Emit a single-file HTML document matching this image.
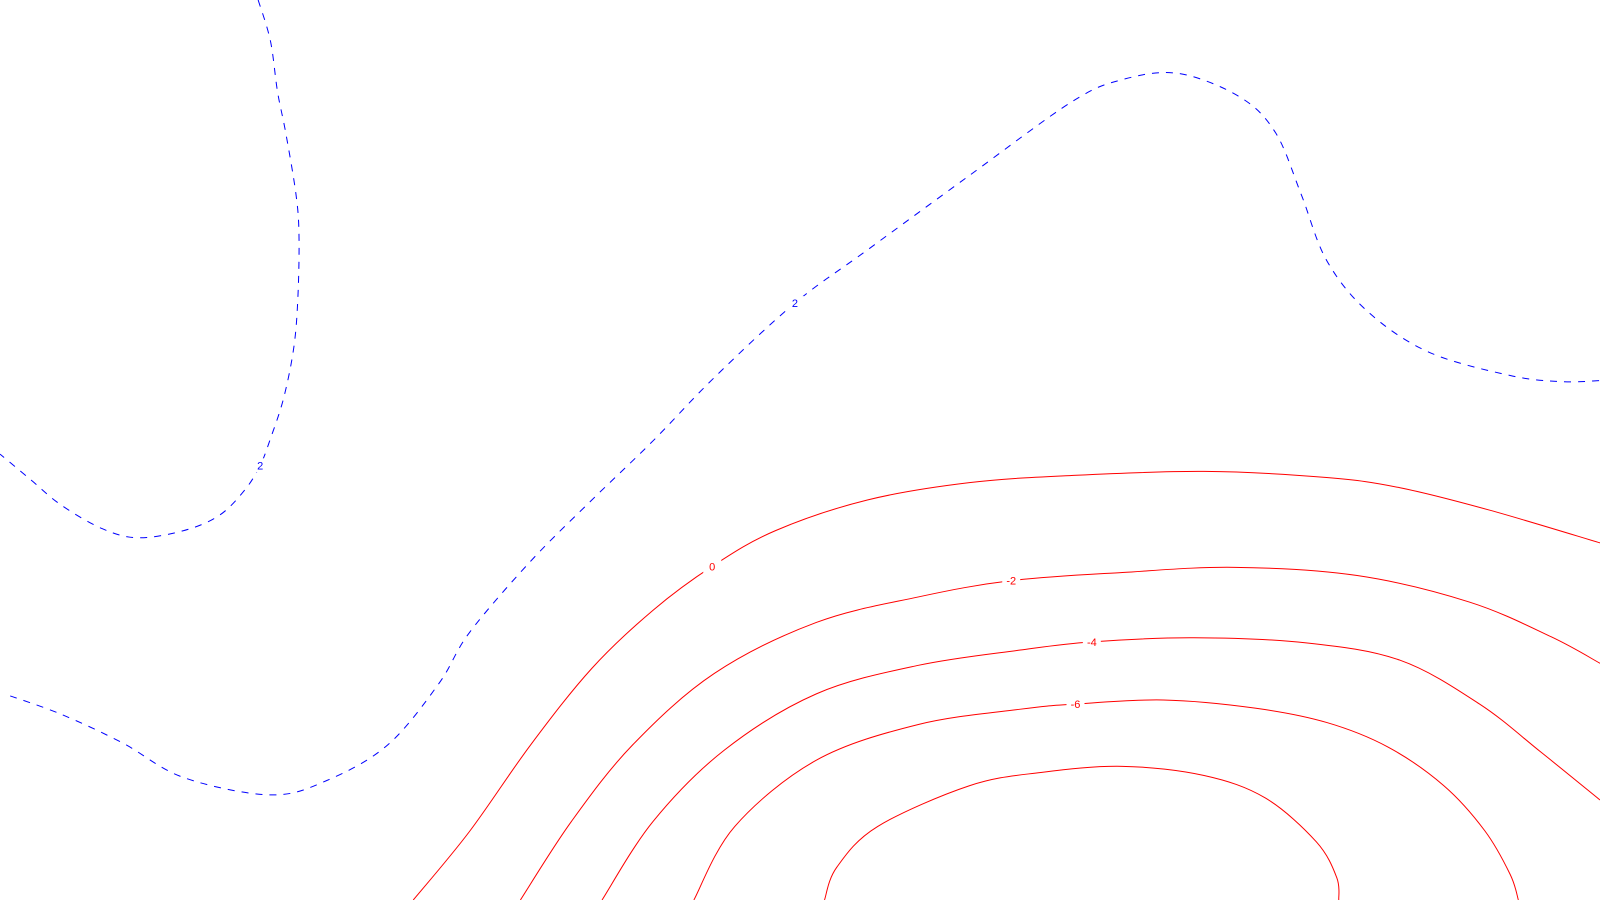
<!DOCTYPE html>
<html><head><meta charset="utf-8"><style>
html,body{margin:0;padding:0;background:#fff;}
svg{display:block;}
text{font-family:"Liberation Sans",sans-serif;font-size:11px;}
</style></head><body>
<svg id="chart" width="1600" height="900" viewBox="0 0 1600 900" xmlns="http://www.w3.org/2000/svg">
<rect width="1600" height="900" fill="#fff"/>
<g id="lines"></g><g id="labels"></g>
</svg>
<script>
const levels = ["2","2","0","-2","-4","-6","-8"];
const contourA = [[2.53,8.82],[2.65,8.42],[2.72,7.92],[2.80,7.52],[2.90,6.92],[2.93,6.52],[2.92,5.92],[2.88,5.42],[2.78,4.92],[2.65,4.52],[2.55,4.26],[2.40,4.02],[2.15,3.77],[1.80,3.62],[1.35,3.55],[1.00,3.64],[0.60,3.87],[0.30,4.12],[0,4.37]];
const contourB = [[0.10,2.00],[0.60,1.82],[1.20,1.54],[1.80,1.20],[2.65,1.03],[3.20,1.17],[3.80,1.52],[4.30,2.12],[4.60,2.62],[5.20,3.32],[5.80,3.92],[6.40,4.50],[7.00,5.12],[7.79,5.85],[8.50,6.37],[9.50,7.10],[10.50,7.82],[11.00,8.04],[11.55,8.10],[12.15,7.87],[12.50,7.52],[12.75,6.92],[13.00,6.27],[13.40,5.77],[14.00,5.37],[14.80,5.14],[15.30,5.08],[15.68,5.09]];
const contour0 = [[4.05,0],[4.60,0.67],[5.20,1.52],[5.80,2.27],[6.40,2.84],[6.98,3.27],[7.60,3.62],[8.50,3.92],[9.50,4.09],[10.50,4.16],[11.80,4.20],[13.00,4.14],[13.72,4.04],[14.60,3.82],[15.68,3.50]];
const contourM2 = [[5.10,0],[5.60,0.77],[6.20,1.52],[7.00,2.22],[8.00,2.72],[9.00,2.97],[9.91,3.13],[11.00,3.21],[12.10,3.26],[13.30,3.18],[14.40,2.92],[15.20,2.58],[15.68,2.32]];
const contourM4 = [[5.90,0],[6.40,0.77],[7.10,1.47],[8.00,2.02],[9.00,2.30],[10.00,2.45],[10.70,2.53],[11.70,2.57],[12.80,2.52],[13.72,2.35],[14.50,1.92],[15.10,1.45],[15.68,0.98]];
const contourM6 = [[6.80,0],[7.20,0.72],[8.00,1.37],[9.00,1.72],[10.00,1.87],[10.54,1.92],[11.40,1.96],[12.30,1.88],[13.00,1.74],[13.60,1.50],[14.15,1.12],[14.55,0.68],[14.80,0.25],[14.88,0]];
const contourM8 = [[8.08,0],[8.20,0.32],[8.60,0.72],[9.50,1.12],[10.20,1.25],[11.00,1.31],[11.80,1.22],[12.40,1.00],[12.90,0.57],[13.10,0.22],[13.12,0]];
const labelPos = [[2.55,4.26],[7.79,5.85],[6.98,3.27],[9.91,3.13],[10.70,2.53],[10.54,1.92]];
const labelText = ["2","2","0","-2","-4","-6"];

const X = v => v / 15.68 * 1600;
const Y = v => 900 - v / 8.82 * 900;
function pathOf(pts){
  const p = pts.map(d => [X(d[0]), Y(d[1])]);
  let s = "M" + p[0][0] + "," + p[0][1];
  for (let i = 0; i < p.length - 1; i++) {
    const p0 = p[i-1] || p[i], p1 = p[i], p2 = p[i+1], p3 = p[i+2] || p2;
    const c1 = [p1[0] + (p2[0]-p0[0])/6, p1[1] + (p2[1]-p0[1])/6];
    const c2 = [p2[0] - (p3[0]-p1[0])/6, p2[1] - (p3[1]-p1[1])/6];
    s += "C" + c1 + " " + c2 + " " + p2;
  }
  return s;
}
const ns = "http://www.w3.org/2000/svg";
const series = [contourA, contourB, contour0, contourM2, contourM4, contourM6, contourM8];
const gl = document.getElementById("lines");
series.forEach((pts, i) => {
  const el = document.createElementNS(ns, "path");
  el.setAttribute("d", pathOf(pts));
  el.setAttribute("fill", "none");
  const blue = Number(levels[i]) > 0;
  el.setAttribute("stroke", blue ? "#0000ff" : "#ff0000");
  el.setAttribute("stroke-width", "1");
  if (blue) el.setAttribute("stroke-dasharray", "7,7");
  
  
  gl.appendChild(el);
});
const glab = document.getElementById("labels");
labelPos.forEach((d, i) => {
  const x = X(d[0]), y = Y(d[1]);
  const r = document.createElementNS(ns, "rect");
  r.setAttribute("x", x - 9); r.setAttribute("y", y - 7);
  r.setAttribute("width", 18); r.setAttribute("height", 14);
  r.setAttribute("fill", "#fff");
  
  
  glab.appendChild(r);
  const t = document.createElementNS(ns, "text");
  t.setAttribute("x", x); t.setAttribute("y", y + 4);
  t.setAttribute("text-anchor", "middle");
  t.setAttribute("fill", Number(labelText[i]) > 0 ? "#0000ff" : "#ff0000");
  t.textContent = labelText[i];
  
  
  glab.appendChild(t);
});
</script>
</body></html>
